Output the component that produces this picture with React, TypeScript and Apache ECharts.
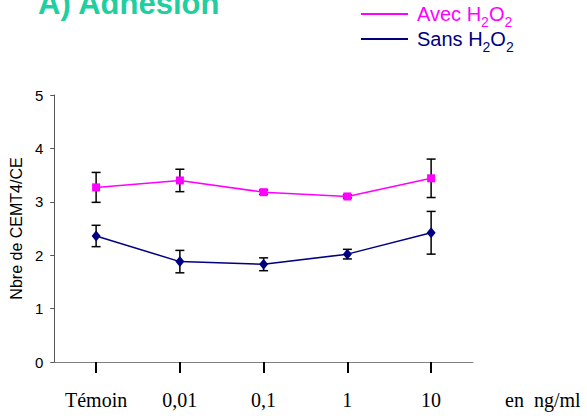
import React, { useEffect, useRef } from "react";
import * as echarts from "echarts";

const categories = ["Témoin", "0,01", "0,1", "1", "10"];
const avecMeans = [3.27, 3.4, 3.18, 3.1, 3.44];
const avecErr = [0.28, 0.21, 0.04, 0.03, 0.36];
const sansMeans = [2.36, 1.88, 1.83, 2.02, 2.42];
const sansErr = [0.2, 0.21, 0.12, 0.09, 0.4];
const yMin = 0;
const yMax = 5;
const yInterval = 1;

const SANS = "'Liberation Sans', Arial, sans-serif";
const SERIF = "'Liberation Serif', 'Times New Roman', serif";

function errData(means: number[], errs: number[]) {
  return means.map((m, i) => [i, m - errs[i], m + errs[i]]);
}

function errorRender(params: any, api: any) {
  const x = api.value(0);
  const lo = api.coord([x, api.value(1)]);
  const hi = api.coord([x, api.value(2)]);
  const cap = 4.5;
  const style = { stroke: "#000000", lineWidth: 1.5 };
  return {
    type: "group",
    children: [
      { type: "line", shape: { x1: lo[0], y1: lo[1], x2: hi[0], y2: hi[1] }, style },
      { type: "line", shape: { x1: hi[0] - cap, y1: hi[1], x2: hi[0] + cap, y2: hi[1] }, style },
      { type: "line", shape: { x1: lo[0] - cap, y1: lo[1], x2: lo[0] + cap, y2: lo[1] }, style },
    ],
  };
}

const mainTok = (color: string, padLeft = 0) => ({
  fontFamily: SANS,
  fontSize: 20,
  lineHeight: 30,
  color,
  verticalAlign: "middle",
  padding: [0, 0, 0, padLeft],
});
const subTok = (color: string) => ({
  fontFamily: SANS,
  fontSize: 14,
  lineHeight: 18,
  color,
  verticalAlign: "bottom",
});

function makeLegend(name: string, label: string, color: string, top: number) {
  return {
    left: 361,
    top,
    padding: 0,
    orient: "vertical",
    itemWidth: 47,
    itemHeight: 2,
    icon: "rect",
    selectedMode: false,
    data: [name],
    formatter: () => `{a|${label} H}{s|2}{b|O}{s|2}`,
    textStyle: {
      fontFamily: SANS,
      rich: {
        a: mainTok(color, 4),
        b: mainTok(color),
        s: subTok(color),
      },
    },
  };
}

export default function App() {
  const ref = useRef<HTMLDivElement>(null);
  useEffect(() => {
    if (!ref.current) return;
    const chart = echarts.init(ref.current, undefined, { renderer: "svg" });
    chart.setOption({
      animation: false,
      backgroundColor: "#ffffff",
      grid: { left: 51, right: 114, top: 95, bottom: 54, containLabel: false },
      legend: [
        makeLegend("Avec", "Avec", "#ff00ff", 4),
        makeLegend("Sans", "Sans", "#000080", 29),
      ],
      graphic: [
        {
          type: "text",
          left: 38,
          top: -12,
          style: {
            text: "A) Adhésion",
            fontFamily: SANS,
            fontWeight: "bold",
            fontSize: 31,
            fill: "#20cf9f",
          },
        },
      ],
      xAxis: {
        type: "category",
        data: categories,
        boundaryGap: true,
        name: "en  ng/ml",
        nameLocation: "end",
        nameGap: 32,
        nameTextStyle: {
          fontFamily: SERIF,
          fontSize: 20,
          color: "#000000",
          verticalAlign: "top",
          padding: [28, 0, 0, 0],
        },
        axisLine: { show: true, lineStyle: { color: "#808080", width: 1 } },
        axisTick: { show: true, alignWithLabel: true, length: 11, lineStyle: { color: "#000000", width: 2 } },
        axisLabel: { fontFamily: SERIF, fontSize: 20, color: "#000000", margin: 28 },
        splitLine: { show: false },
      },
      yAxis: {
        type: "value",
        min: yMin,
        max: yMax,
        interval: yInterval,
        name: "Nbre de CEMT4/CE",
        nameLocation: "middle",
        nameGap: 23,
        nameRotate: 90,
        nameTextStyle: { fontFamily: SANS, fontSize: 16, color: "#000000" },
        axisLine: { show: true, lineStyle: { color: "#555555", width: 1 } },
        axisTick: { show: true, length: 4, lineStyle: { color: "#555555" } },
        axisLabel: { fontFamily: SANS, fontSize: 15, color: "#000000", margin: 11 },
        splitLine: { show: false },
      },
      series: [
        {
          name: "AvecErr",
          type: "custom",
          z: 1,
          renderItem: errorRender,
          data: errData(avecMeans, avecErr),
          silent: true,
        },
        {
          name: "SansErr",
          type: "custom",
          z: 1,
          renderItem: errorRender,
          data: errData(sansMeans, sansErr),
          silent: true,
        },
        {
          name: "Avec",
          type: "line",
          z: 3,
          data: avecMeans,
          symbol: "rect",
          symbolSize: [8, 8],
          lineStyle: { color: "#ff00ff", width: 1.5 },
          itemStyle: { color: "#ff00ff" },
        },
        {
          name: "Sans",
          type: "line",
          z: 3,
          data: sansMeans,
          symbol: "diamond",
          symbolSize: [9, 11],
          lineStyle: { color: "#000080", width: 1.5 },
          itemStyle: { color: "#000080" },
        },
      ],
    });
    return () => chart.dispose();
  }, []);
  return <div ref={ref} style={{ width: 587, height: 416, position: "absolute", left: 0, top: 0 }} />;
}
